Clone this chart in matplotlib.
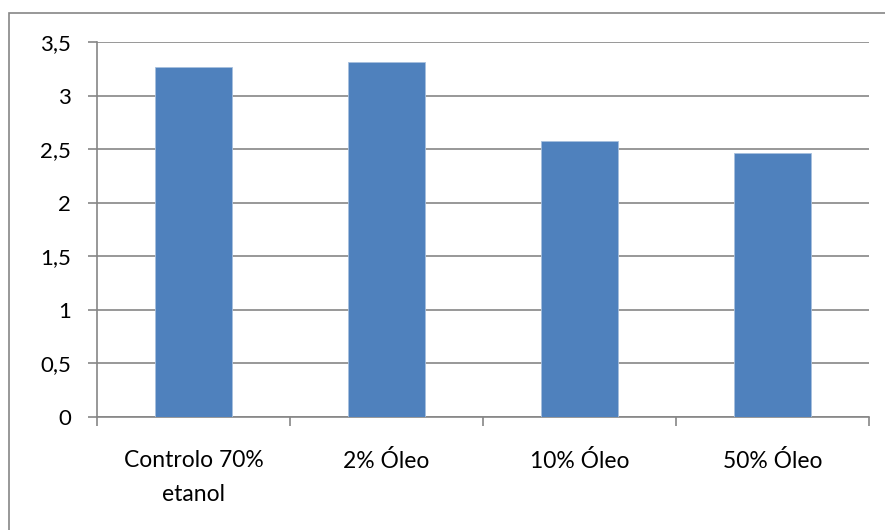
import matplotlib.pyplot as plt
from matplotlib.patches import Rectangle

# data
categorias = ['Controlo 70%\netanol', '2% Óleo', '10% Óleo', '50% Óleo']
valores = [3.27, 3.31, 2.575, 2.46]
y_ticks = [0, 0.5, 1, 1.5, 2, 2.5, 3, 3.5]
y_labels = ['0', '0,5', '1', '1,5', '2', '2,5', '3', '3,5']

plt.rcParams['font.family'] = ['Lato', 'DejaVu Sans']

W, H = 885, 530
fig = plt.figure(figsize=(W / 100, H / 100), dpi=100)
ax = fig.add_axes([97 / W, (H - 417) / H, (869 - 97) / W, (417 - 42) / H])

grey = '#868686'

# chart border (extends past the right and bottom edges)
fig.patches.append(Rectangle((8.5 / W, -0.1), 1.2, (H - 13) / H + 0.1,
                             transform=fig.transFigure, fill=False,
                             edgecolor=grey, linewidth=1.2))

pos = range(len(categorias))
ax.bar(pos, valores, width=0.4, color='#4F81BD', edgecolor='#A7C0DE',
       linewidth=0.6, zorder=3)

ax.set_xlim(-0.5, len(categorias) - 0.5)
ax.set_ylim(0, 3.5)
ax.set_yticks(y_ticks)
ax.set_yticklabels(y_labels, fontsize=16)
ax.yaxis.grid(True, color=grey, linewidth=1.2)
ax.set_axisbelow(True)

# ticks at category boundaries, labels at category centres
ax.set_xticks([i - 0.5 for i in range(len(categorias) + 1)])
ax.set_xticklabels([])
ax.set_xticks(list(pos), minor=True)
ax.set_xticklabels(categorias, minor=True, fontsize=16.5, linespacing=1.75)
ax.tick_params(axis='x', which='minor', length=0, pad=24)
ax.tick_params(axis='x', which='major', length=6.5, color=grey, width=1.2)
ax.tick_params(axis='y', length=6.5, color=grey, width=1.2, pad=12)

for s in ['top', 'right']:
    ax.spines[s].set_visible(False)
for s in ['left', 'bottom']:
    ax.spines[s].set_color(grey)
    ax.spines[s].set_linewidth(1.2)

fig.savefig('out.png', dpi=100)
